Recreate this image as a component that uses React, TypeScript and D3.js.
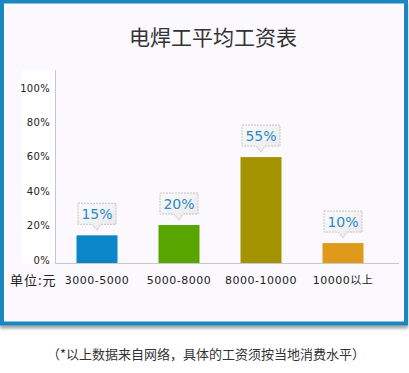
import React from 'react';
import * as d3 from 'd3';

const categories = ['3000-5000', '5000-8000', '8000-10000', '10000以上'];
const barValues = [15.5, 21.5, 61, 11];
const valueLabels = ['15%', '20%', '55%', '10%'];
const barColors = ['#0b86c8', '#58a500', '#a39300', '#df9a1c'];
const yTicks = [0, 20, 40, 60, 80, 100];

const W = 409;
const H = 373;

const App = () => {
    const x = d3.scaleBand<string>()
        .domain(categories)
        .range([56, 384])
        .paddingInner(0.5)
        .paddingOuter(0.25);

    const y = d3.scaleLinear()
        .domain([0, 100])
        .range([262, 90]);

    const boxW = 38;
    const boxH = 21;

    // callout shape around a tip point
    const callout = (cx: number, tip: number) => {
        const b = tip - 6;
        const t = b - boxH;
        const l = cx - boxW / 2;
        const r = cx + boxW / 2;
        const p = d3.path();
        p.moveTo(l, t);
        p.lineTo(r, t);
        p.lineTo(r, b);
        p.lineTo(cx + 4, b);
        p.lineTo(cx, tip);
        p.lineTo(cx - 5, b);
        p.lineTo(l, b);
        p.closePath();
        return p.toString();
    };

    return (
        <svg width={W} height={H} style={{position: 'absolute', left: 0, top: 0, background: '#fff'}}>
            <defs>
                <filter id="shadow" x="-5%" y="-5%" width="110%" height="115%">
                    <feDropShadow dx="0" dy="3" stdDeviation="1.5" floodColor="#000" floodOpacity="0.35"/>
                </filter>
                <linearGradient id="boxFill" x1="0" y1="0" x2="1" y2="1">
                    <stop offset="0%" stopColor="#fafafa"/>
                    <stop offset="100%" stopColor="#e9e9eb"/>
                </linearGradient>
            </defs>

            {/* frame */}
            <rect x={2} y={1.5} width={404} height={322} fill="#fbf9fe" stroke="#1a86c0" strokeWidth={4} filter="url(#shadow)"/>

            <text x={213} y={45} textAnchor="middle" fontFamily="Noto Sans CJK SC" fontSize={21} fill="#333">
                电焊工平均工资表
            </text>

            {/* y axis label backdrop */}
            <rect x={22} y={70} width={33} height={193} fill="#ffffff"/>

            <line x1={55.5} x2={55.5} y1={70} y2={263} stroke="#c8c8c8"/>
            <line x1={55} x2={399} y1={263.5} y2={263.5} stroke="#c8c8c8"/>

            {yTicks.map(t => (
                <text key={t} x={50} y={y(t) + 1.5} textAnchor="end" fontFamily="DejaVu Sans" fontSize={10}
                      letterSpacing={0.3} fill="#222">
                    {t}%
                </text>
            ))}

            {categories.map((c, i) => (
                <rect key={c} x={x(c)} y={y(barValues[i])} width={x.bandwidth()} height={263 - y(barValues[i])} fill={barColors[i]}/>
            ))}

            {categories.map((c, i) => {
                const cx = (x(c) as number) + x.bandwidth() / 2;
                const tip = y(barValues[i]) - 5;
                return (
                    <g key={c}>
                        <path d={callout(cx, tip)} fill="url(#boxFill)" stroke="#c4c4c4" strokeDasharray="2,1"/>
                        <text x={cx} y={tip - 11} textAnchor="middle" fontFamily="DejaVu Sans" fontSize={14} fill="#2a8ac8">
                            {valueLabels[i]}
                        </text>
                    </g>
                );
            })}

            <text x={10} y={285} fontFamily="Noto Sans CJK SC" fontSize={13} letterSpacing={1} fill="#222">单位:元</text>
            {categories.map(c => (
                <text key={c} x={(x(c) as number) + x.bandwidth() / 2} y={284} textAnchor="middle"
                      fontFamily="DejaVu Sans, Noto Sans CJK SC" fontSize={11} letterSpacing={0.5} fill="#222">
                    {c}
                </text>
            ))}

            <text x={206} y={359} textAnchor="middle" fontFamily="Noto Sans CJK SC" fontSize={13} fill="#333">
                （*以上数据来自网络，具体的工资须按当地消费水平）
            </text>
        </svg>
    );
};

export default App;
